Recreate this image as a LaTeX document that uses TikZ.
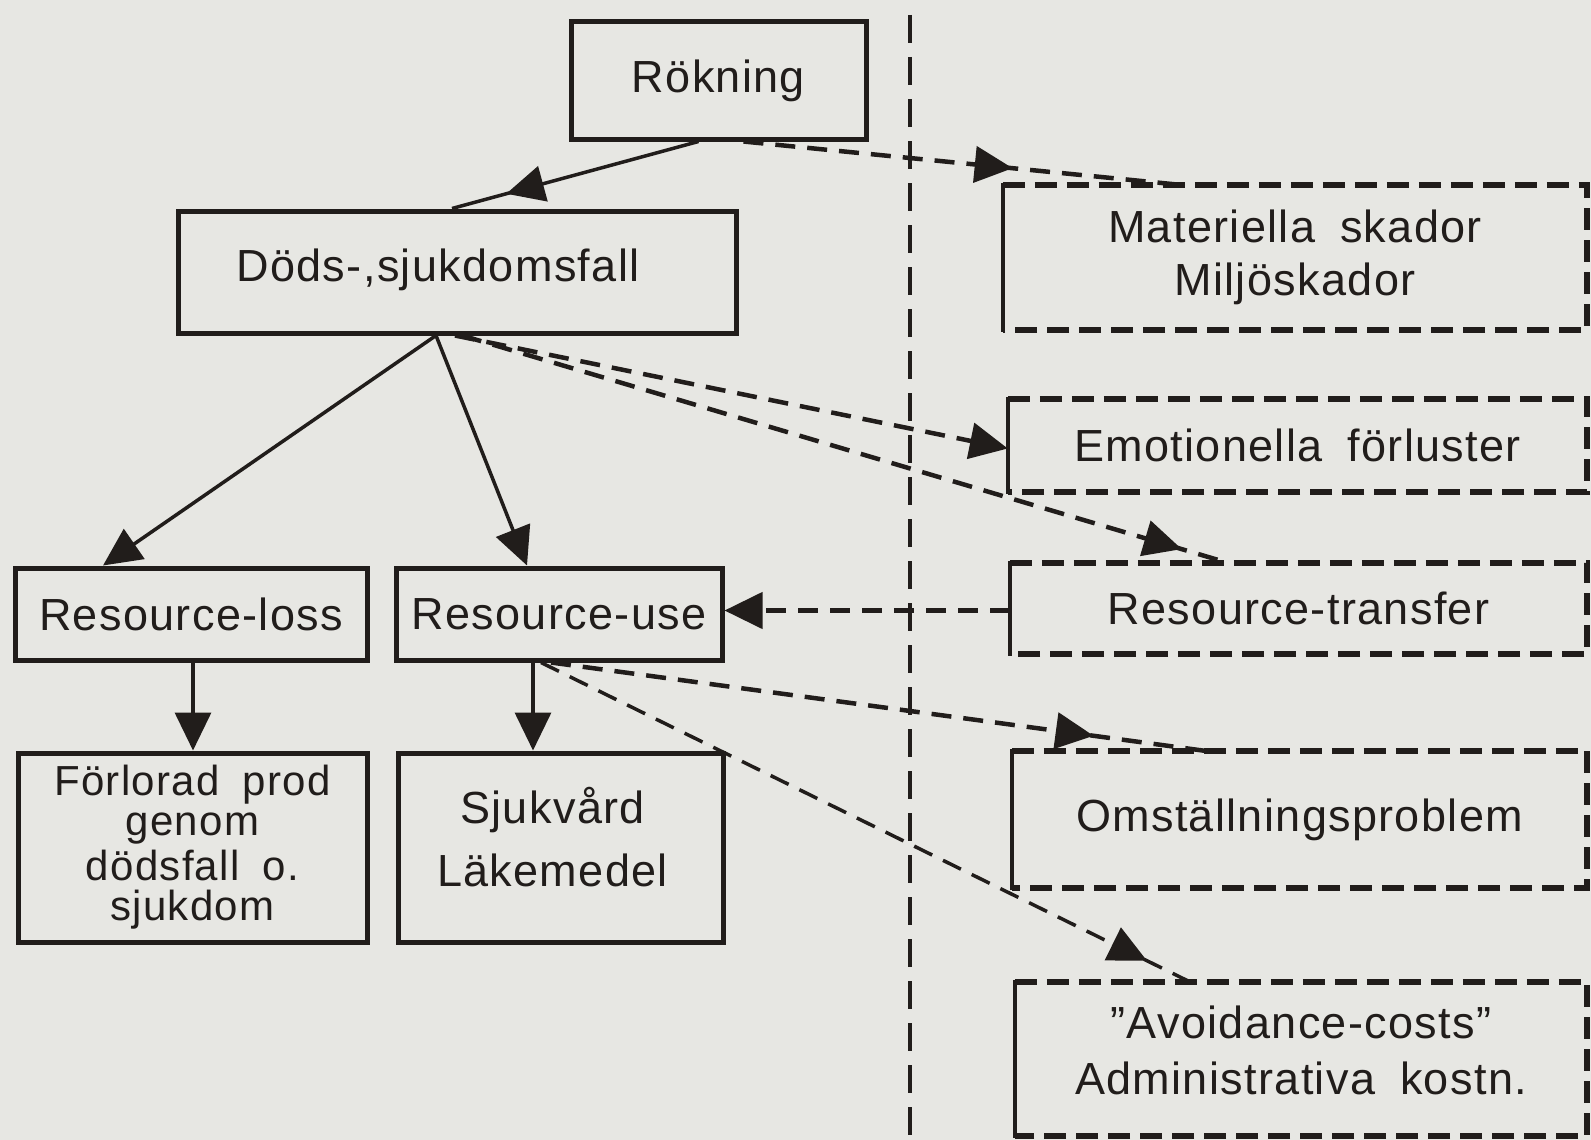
\documentclass[tikz,border=0pt]{standalone}
\usepackage{fontspec}
\setmainfont{Liberation Sans}[LetterSpace=3,WordSpace=1.8]
\usetikzlibrary{arrows.meta,decorations.markings}
\definecolor{paper}{RGB}{231,231,227}
\definecolor{ink}{RGB}{33,29,27}
\tikzset{
  txt/.style={font=\fontsize{45}{48}\selectfont, text=ink, align=center, inner sep=0pt},
  sbox/.style={txt, draw=ink, line width=5pt},
  dbox/.style={txt},
  dashedge/.style={draw=ink, line width=6pt, dash pattern=on 22pt off 10pt},
  solidedge/.style={draw=ink, line width=4pt},
  conn/.style={draw=ink, line width=3.5pt},
  dconn/.style={draw=ink, line width=4.5pt, dash pattern=on 20pt off 12pt},
  tipA/.tip={Triangle[length=38pt,width=36pt]},
  endarrow/.style={-{tipA}},
  midarrow/.style={postaction={decorate}, decoration={markings, mark=at position #1 with {\arrow[ink]{tipA}}}}
}
\begin{document}
\begin{tikzpicture}[x=1pt,y=-1pt]
\fill[paper] (0,0) rectangle (1591,1140);
\useasboundingbox (0,0) rectangle (1591,1140);

% divider
\draw[draw=ink, line width=4pt, dash pattern=on 28pt off 14pt] (910,15) -- (910,1140);

% left boxes
\node[sbox, minimum width=295pt, minimum height=117pt] (rok) at (718.5,80.5) {Rökning};
\node[sbox, minimum width=558pt, minimum height=122pt] (dods) at (457,272) {};
\node[txt] (dodsT) at ([xshift=-19pt,yshift=2pt]dods.center) {Döds-,sjukdomsfall};
\node[sbox, minimum width=352pt, minimum height=92pt] (rl) at (191,614) {Resource-loss};
\node[sbox, minimum width=326pt, minimum height=92pt] (ru) at (559,614) {Resource-use};
\node[sbox, minimum width=349pt, minimum height=189pt, font=\fontsize{42}{40}\selectfont] (forl) at (192.5,847.5) {Förlorad prod\\genom\\[5pt]dödsfall o.\\sjukdom};
\node[sbox, minimum width=325pt, minimum height=189pt] (sjuk) at (560.5,847.5) {};
\node[txt, font=\fontsize{45}{63}\selectfont] (sjukT) at ([xshift=-8pt,yshift=10pt]sjuk.center) {Sjukvård\\Läkemedel};

% right boxes
\node[dbox, minimum width=584pt, minimum height=145pt, font=\fontsize{45}{53}\selectfont] (mat) at (1295,257.5) {Materiella skador\\Miljöskador};
\node[dbox, minimum width=579pt, minimum height=93pt] (emo) at (1297.5,445.5) {Emotionella förluster};
\node[dbox, minimum width=577pt, minimum height=91pt] (rt) at (1298.5,608.5) {Resource-transfer};
\node[dbox, minimum width=575pt, minimum height=137pt] (omst) at (1299.5,819.5) {Omställningsproblem};
\node[dbox, minimum width=572pt, minimum height=154pt] (avoid) at (1301,1059) {};
\node[txt, font=\fontsize{45}{56}\selectfont] (avoidT) at ([yshift=9pt]avoid.center) {”Avoidance-costs”\\Administrativa kostn.};

\foreach \n in {mat,emo,rt,omst,avoid}{
  \draw[dashedge] (\n.north west) -- (\n.north east) -- (\n.south east) -- (\n.south west);
  \draw[solidedge] ([yshift=2pt]\n.north west) -- ([yshift=-2pt]\n.south west);
}

% solid connectors
\draw[conn, midarrow=0.78] ([xshift=-20pt]rok.south) -- ([xshift=-5pt]dods.north);
\draw[conn, endarrow] ([xshift=-21pt]dods.south) -- ([xshift=-88pt]rl.north);
\draw[conn, endarrow] ([xshift=-21pt]dods.south) -- ([xshift=-32pt]ru.north);
\draw[conn, endarrow] ([xshift=2pt]rl.south) -- ([xshift=2pt]rl.south |- forl.north);
\draw[conn, endarrow] ([xshift=-26pt]ru.south) -- ([xshift=-26pt]ru.south |- sjuk.north);

% dashed connectors
\draw[dconn, midarrow=0.617] ([xshift=25pt]rok.south) -- ([xshift=177pt]mat.north west);
\draw[dconn, endarrow] ([xshift=-2pt]dods.south) -- ([yshift=-3pt]emo.west);
\draw[dconn, midarrow=0.94] ([xshift=5pt]dods.south) -- ([xshift=218pt]rt.north west);
\draw[dconn, endarrow] ([yshift=-2pt]rt.west) -- ([yshift=-2pt]rt.west -| ru.east);
\draw[dconn, midarrow=0.83] ([xshift=-8pt]ru.south) -- ([xshift=193pt]omst.north west);
\draw[dconn, line width=3.5pt, midarrow=0.934] ([xshift=-18pt]ru.south) -- ([xshift=175pt]avoid.north west);
\end{tikzpicture}
\end{document}
